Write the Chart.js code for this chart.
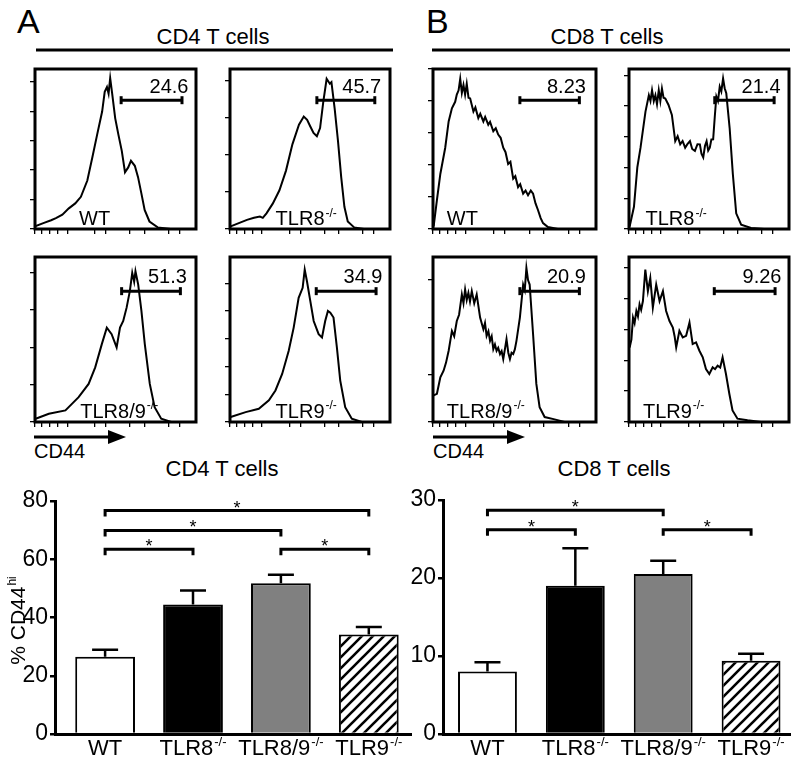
<!DOCTYPE html>
<html>
<head>
<meta charset="utf-8">
<script src="https://cdn.jsdelivr.net/npm/chart.js@4.4.0/dist/chart.umd.min.js"></script>
<style>
body { margin: 0; background: #fff; }
#fig { position: relative; width: 796px; height: 763px; overflow: hidden; font-family: "Liberation Sans", Arial, sans-serif; color: #000; }
#fig canvas { position: absolute; }
#fig svg { position: absolute; left: 0; top: 0; }
.txt { position: absolute; white-space: nowrap; line-height: 1; }
</style>
</head>
<body>
<div id="fig">
<svg width="796" height="763">
  <line x1="36" y1="50" x2="393" y2="50" stroke="#000" stroke-width="3"/>
  <line x1="432" y1="50" x2="790" y2="50" stroke="#000" stroke-width="3"/>
  <line x1="34" y1="437" x2="110" y2="437" stroke="#000" stroke-width="3"/>
  <polygon points="108,430 126,437 108,444" fill="#000"/>
  <line x1="433" y1="437" x2="509" y2="437" stroke="#000" stroke-width="3"/>
  <polygon points="507,430 525,437 507,444" fill="#000"/>
</svg>
<div class="txt" style="left:17px;top:4px;font-size:34px">A</div>
<div class="txt" style="left:426px;top:4px;font-size:34px">B</div>
<div class="txt" style="left:113px;top:26px;width:200px;text-align:center;font-size:22px">CD4 T cells</div>
<div class="txt" style="left:507px;top:26px;width:200px;text-align:center;font-size:22px">CD8 T cells</div>
<div class="txt" style="left:34px;top:441px;font-size:20px">CD44</div>
<div class="txt" style="left:433px;top:441px;font-size:20px">CD44</div>
<div class="txt" style="left:122px;top:458px;width:200px;text-align:center;font-size:22px">CD4 T cells</div>
<div class="txt" style="left:514px;top:458px;width:200px;text-align:center;font-size:22px">CD8 T cells</div>
</div>
<script>
const FONT = '"Liberation Sans", Arial, sans-serif';

// sample names (main text + superscript)
const sampleNames = ["WT", "TLR8", "TLR8/9", "TLR9"];
const sampleSups = ["", "-/-", "-/-", "-/-"];

// histogram traces: [CD44 channel (0-100), % of max]
const cd4WT = [[0,1.6],[6,4],[10,5.5],[13,6.8],[17,9],[21,12.9],[25,16],[28.5,20.1],[32.5,30.3],[35.6,44.7],[38.6,59],[41.7,73.4],[43.3,85.7],[44.7,88.7],[45.7,84.6],[46.7,94.3],[47.8,85.7],[49.8,69.3],[51.8,59],[53.9,48.8],[55.9,35.5],[57.9,38.5],[59.6,42.6],[62,39.5],[64,32.4],[66.1,22.1],[68.1,11.9],[71.1,4.7],[76.2,1],[84.3,0],[100,0]];
const cd4TLR8 = [[0.4,1.6],[10.6,5.7],[15,7],[18.7,7.8],[20.5,7],[22.8,9.8],[26.8,16],[30.9,24.2],[35,36.5],[39,52.9],[43.1,65.2],[46.1,70.3],[48.2,68.2],[50.2,64.1],[52.2,60],[54.3,58],[56.3,63.1],[58.3,79.5],[60.4,93.9],[62.4,90.8],[63.4,91.8],[65.4,75.4],[67.5,54.9],[69.5,32.4],[71.5,13.9],[73.6,4.7],[77.6,1],[83.7,0],[100,0]];
const cd4TLR89 = [[0.4,2],[8.6,5],[18.9,7],[27.1,15.1],[33.3,23.1],[37.4,33.1],[41.5,47.2],[44.6,57.2],[47.6,53.2],[50.7,45.2],[52.8,57.2],[54.8,61.2],[56.9,69.3],[58.9,79.3],[60.4,90.4],[61.6,85],[62.4,91.4],[64.1,83.3],[66.1,67.3],[68.2,47.2],[71.3,23.1],[74.3,9],[78.4,2],[84.6,0],[100,0]];
const cd4TLR9 = [[0.4,3],[9.8,6],[18,8],[24.3,13.1],[28.4,19.1],[32.6,29.1],[36.7,43.2],[39.8,57.2],[42.9,75.3],[45.4,81.3],[46.7,92.4],[48.1,85.3],[50.2,73.3],[52.3,61.2],[55.4,53.2],[57.5,51.2],[59.5,61.2],[61.2,67.3],[62.7,66.3],[64.7,63.3],[66.8,45.2],[68.9,25.1],[72,9],[76.1,2],[82.4,0],[100,0]];
const cd8WT = [[0.4,1.6],[2.4,18],[4.5,34.4],[7.5,50.8],[9.6,67.2],[11.6,75.4],[13.6,79.5],[14.6,84],[15.7,86.7],[16.7,93.9],[17.7,85],[18.7,90],[19.7,84],[20.7,90.8],[21.8,82],[22.8,81.6],[24.8,73.4],[26,76],[27.8,69.3],[29,72],[30.9,67.2],[32,70],[33.9,65.2],[35,67],[37,61.1],[38.5,63],[40,59],[41.5,57],[43.1,50.8],[44.5,48],[46.1,40.6],[47.5,42],[49.2,31.4],[50.5,33],[52.2,26.2],[53.5,28],[55.3,22.1],[56.8,24],[58.3,21.1],[60,24],[61.4,22.1],[62.9,16],[64.4,11.9],[66,7],[67.5,3.7],[70.5,1.2],[76.6,0],[100,0]];
const cd8TLR8 = [[0.4,1.6],[3.1,13.9],[5.2,38.5],[7.2,50.8],[10.3,73.4],[12.4,83.6],[13.4,80],[14.4,86.7],[15.5,80],[16.5,83.6],[17.5,78],[18.6,86.7],[19.6,80],[20.6,87.7],[21.6,82],[22.7,81.6],[24.7,77.5],[26.8,71.3],[28.9,54.9],[30.4,58],[32,52.9],[33.5,55],[35.1,50.8],[36.5,53],[38.1,54.9],[39.5,50],[41.2,48.8],[42.8,53],[44.3,52.9],[45.3,47],[46.4,44.7],[47.5,52],[48.5,54.9],[49.5,49],[50.5,50.8],[51.5,56],[52.6,56.1],[53.6,70],[54.6,82.8],[55.6,80],[56.7,88.9],[57.7,86],[58.8,94.1],[59.8,88],[60.8,84.8],[62.9,63.1],[64.9,34.4],[67,9.8],[70.1,2.7],[76.3,0.6],[84.5,0],[100,0]];
const cd8TLR89 = [[0.4,16.1],[2.4,17.1],[4.5,27.1],[6.5,31.1],[8,36],[9.6,43.2],[11.6,55.2],[13,52],[14.6,61.2],[16,65],[17.7,77.3],[18.7,72],[19.7,80.3],[20.7,74],[21.7,78.3],[22.7,73],[23.8,79.3],[25.3,72],[26.8,77.3],[28.9,63.3],[30.9,56.2],[31.9,60],[32.9,52.2],[34,55],[35,49.2],[36,52],[37,44.2],[38,47],[39,43.2],[40,45],[41.1,41.2],[42.1,43],[43.1,38.2],[44.1,44],[45.1,50.2],[46.2,42],[47.2,38.2],[48.2,42],[49.2,41.2],[50.2,44],[51.2,49.2],[53.3,63.3],[55.3,83.3],[56.3,80],[57.3,93.4],[58.3,86],[59.3,83.3],[61.4,53.2],[63.4,23.1],[65.4,9],[68.5,3],[74.6,1.6],[80.7,0],[100,0]];
const cd8TLR9 = [[0.4,45.2],[1.5,50],[2.5,63.3],[3.5,60],[4.6,67.3],[5.6,64],[6.6,71.3],[7.6,68],[8.7,73.3],[10.2,92.4],[11.8,79.3],[13.3,87.3],[14.9,69.3],[17,83.3],[19.1,73.3],[21.2,79.3],[23.2,67.3],[25.3,61.2],[27.4,57.2],[28.5,52],[29.5,45.2],[31.5,55.2],[33.6,51.2],[35.7,52.2],[37.8,60.2],[39.8,47.2],[41.9,48.2],[44,43.2],[46.1,39.2],[48.1,32.1],[50.2,29.1],[52.3,33.1],[53.8,32],[55.4,34.1],[57,33],[58.5,39.2],[60.6,29.1],[62.7,17.1],[64.7,7],[67.8,2],[74.1,1],[82.4,0],[100,0]];

// gates: [start, end, height] and their % values
const cd4Gates = [[53.5,91.3,80.5],[54.3,90.5,80.5],[53.8,90.3,79.3],[53.9,91.3,79.3]];
const cd8Gates = [[53.3,89.8,80.5],[53.6,90.7,80.5],[53.3,89.8,79.3],[53.3,91.3,79.3]];
const cd4GateValues = ["24.6", "45.7", "51.3", "34.9"];
const cd8GateValues = ["8.23", "21.4", "20.9", "9.26"];

// axis ticks of the histograms
const histXTicks = [0, 4, 9, 14, 20, 37, 44, 59, 68, 83, 90];
const cd4YSteps = [18.4, 23.2, 22.6, 16.8];
const cd8YSteps = [20, 19.2, 28.7, 18.7];

// bar charts: mean, SEM and significance brackets [from, to, height]
const cd4Means = [26.5, 44.5, 51.8, 34.2];
const cd4Errors = [2.4, 4.8, 2.9, 2.5];
const cd8Means = [8.0, 19.0, 20.5, 9.4];
const cd8Errors = [1.2, 4.8, 1.7, 0.9];
const cd4Sig = [[0,1,63.4],[0,2,69.9],[0,3,76.7],[2,3,63.4]];
const cd8Sig = [[0,2,28.7],[0,1,26.2],[2,3,26.2]];
const cd4YTicks = [0, 20, 40, 60, 80];
const cd8YTicks = [0, 10, 20, 30];

const fig = document.getElementById("fig");

function addCanvas(left, top, w, h) {
    const c = document.createElement("canvas");
    c.width = w; c.height = h;
    c.style.left = left + "px"; c.style.top = top + "px";
    c.style.width = w + "px"; c.style.height = h + "px";
    fig.appendChild(c);
    return c;
}

// label with optional superscript
function drawLabel(ctx, x, y, main, sup, size, align) {
    ctx.font = size + "px " + FONT;
    const w1 = ctx.measureText(main).width;
    ctx.font = Math.round(size * 0.58) + "px " + FONT;
    const w2 = sup ? ctx.measureText(sup).width + 1 : 0;
    let x0 = x;
    if (align === "center") x0 = x - (w1 + w2) / 2;
    ctx.textAlign = "left";
    ctx.textBaseline = "alphabetic";
    ctx.font = size + "px " + FONT;
    ctx.fillText(main, x0, y);
    if (sup) {
        ctx.font = Math.round(size * 0.58) + "px " + FONT;
        ctx.fillText(sup, x0 + w1 + 1, y - size * 0.42);
    }
}

const histDeco = {
    id: "histDeco",
    afterDraw(chart, args, o) {
        const { ctx, chartArea: a, scales: { x, y } } = chart;
        ctx.save();
        ctx.fillStyle = "#000";
        // sample name
        drawLabel(ctx, x.getPixelForValue(o.nameX), y.getPixelForValue(2.5), o.name, o.sup, 20, "left");
        // gate value
        ctx.font = "20px " + FONT;
        ctx.textAlign = "right";
        ctx.textBaseline = "alphabetic";
        ctx.fillText(o.value, x.getPixelForValue(o.gate[1] + 4), y.getPixelForValue(o.gate[2] + 9) + 7);
        // frame
        ctx.strokeStyle = "#000";
        ctx.lineWidth = 3;
        ctx.strokeRect(a.left, a.top, a.right - a.left, a.bottom - a.top);
        ctx.restore();
    }
};

function makeHist(box, pts, gate, value, step, name, sup, nameX) {
    const [x0, y0, x1, y1] = box;
    const c = addCanvas(x0 - 8, y0 - 4, x1 - x0 + 12, y1 - y0 + 12);
    const tickGrid = { drawOnChartArea: false, drawTicks: true, tickLength: 5, color: "#000", lineWidth: 1.3 };
    new Chart(c, {
        type: "line",
        data: {
            datasets: [
                {
                    data: pts.map(([px, py]) => ({ x: px, y: py })),
                    borderColor: "#000",
                    borderWidth: 2,
                    pointRadius: 0,
                    tension: 0,
                },
                {
                    data: [{ x: gate[0], y: gate[2] }, { x: gate[1], y: gate[2] }],
                    borderColor: "#000",
                    borderWidth: 3,
                    pointStyle: "line",
                    pointRotation: 90,
                    pointRadius: 4,
                    pointBorderWidth: 3,
                    pointBorderColor: "#000",
                },
            ],
        },
        options: {
            responsive: false,
            animation: false,
            events: [],
            layout: { padding: { top: 4, right: 4, left: 0, bottom: 0 } },
            plugins: {
                legend: { display: false },
                tooltip: { enabled: false },
                histDeco: { gate, value, name, sup, nameX },
            },
            scales: {
                x: {
                    type: "linear", min: 0, max: 100,
                    ticks: { display: false },
                    grid: tickGrid,
                    border: { display: false },
                    afterBuildTicks: (s) => { s.ticks = histXTicks.map((v) => ({ value: v })); },
                    afterFit: (s) => { s.height = 8; },
                },
                y: {
                    type: "linear", min: 0, max: 100,
                    ticks: { display: false },
                    grid: tickGrid,
                    border: { display: false },
                    afterBuildTicks: (s) => {
                        const t = [];
                        for (let v = 0; v <= 100; v += step) t.push({ value: v });
                        s.ticks = t;
                    },
                    afterFit: (s) => { s.width = 8; },
                },
            },
        },
        plugins: [histDeco],
    });
}

// panel layout
const colsA = [[35, 199], [230, 393]];
const colsB = [[433, 599], [629, 792]];
const rows = [[66, 229], [254, 422]];
const cd4Traces = [cd4WT, cd4TLR8, cd4TLR89, cd4TLR9];
const cd8Traces = [cd8WT, cd8TLR8, cd8TLR89, cd8TLR9];
const cd4NameX = [27.4, 28.5, 28.1, 28.5];
const cd8NameX = [8.5, 10.3, 8.5, 8.7];

for (let i = 0; i < 4; i++) {
    const r = rows[Math.floor(i / 2)];
    const ca = colsA[i % 2], cb = colsB[i % 2];
    makeHist([ca[0], r[0], ca[1], r[1]], cd4Traces[i], cd4Gates[i], cd4GateValues[i], cd4YSteps[i], sampleNames[i], sampleSups[i], cd4NameX[i]);
    makeHist([cb[0], r[0], cb[1], r[1]], cd8Traces[i], cd8Gates[i], cd8GateValues[i], cd8YSteps[i], sampleNames[i], sampleSups[i], cd8NameX[i]);
}

// diagonal hatch for the TLR9 bar
function hatch() {
    const s = 11;
    const c = document.createElement("canvas");
    c.width = s; c.height = s;
    const g = c.getContext("2d");
    g.fillStyle = "#fff";
    g.fillRect(0, 0, s, s);
    g.strokeStyle = "#000";
    g.lineWidth = 2.6;
    g.beginPath();
    g.moveTo(-1, s + 1); g.lineTo(s + 1, -1);
    g.moveTo(-s / 2 - 1, s / 2 + 1); g.lineTo(s / 2 + 1, -s / 2 - 1);
    g.moveTo(s / 2 - 1, s * 1.5 + 1); g.lineTo(s * 1.5 + 1, s / 2 - 1);
    g.stroke();
    return g.createPattern(c, "repeat");
}
const barFills = ["#ffffff", "#000000", "#808080", hatch()];

const barDeco = {
    id: "barDeco",
    afterDatasetsDraw(chart, args, o) {
        const { ctx, chartArea: a, scales: { x, y } } = chart;
        ctx.save();
        ctx.strokeStyle = "#000";
        ctx.fillStyle = "#000";
        // error bars (upper only)
        ctx.lineWidth = 2.5;
        o.means.forEach((m, i) => {
            const px = x.getPixelForValue(i);
            const top = y.getPixelForValue(m + o.errors[i]);
            ctx.beginPath();
            ctx.moveTo(px, y.getPixelForValue(m));
            ctx.lineTo(px, top);
            ctx.moveTo(px - 13, top);
            ctx.lineTo(px + 13, top);
            ctx.stroke();
        });
        // significance brackets
        ctx.lineWidth = 3;
        o.sig.forEach(([i0, i1, v]) => {
            const xa = x.getPixelForValue(i0), xb = x.getPixelForValue(i1), py = y.getPixelForValue(v);
            ctx.beginPath();
            ctx.moveTo(xa, py + 6);
            ctx.lineTo(xa, py);
            ctx.lineTo(xb, py);
            ctx.lineTo(xb, py + 6);
            ctx.stroke();
            ctx.font = "18px " + FONT;
            ctx.textAlign = "center";
            ctx.textBaseline = "alphabetic";
            ctx.fillText("*", (xa + xb) / 2, py + 3);
        });
        // category labels
        sampleNames.forEach((n, i) => {
            drawLabel(ctx, x.getPixelForValue(i), a.bottom + 21, n, sampleSups[i], 22, "center");
        });
        // y title
        if (o.yTitle) {
            ctx.translate(25, (a.top + a.bottom) / 2 + 3);
            ctx.rotate(-Math.PI / 2);
            drawLabel(ctx, 0, 0, "% CD44", "hi", 21, "center");
        }
        ctx.restore();
    }
};

function makeBars(left, w, padTop, padRight, axisW, xMin, xMax, yMax, yTicks, means, errors, sig, barPct, yTitle) {
    const c = addCanvas(left, 470, w, 293);
    new Chart(c, {
        type: "bar",
        data: {
            datasets: [{
                data: means.map((m, i) => ({ x: i, y: m })),
                backgroundColor: barFills,
                borderColor: "#000",
                borderWidth: 2,
                barPercentage: barPct,
                categoryPercentage: 1,
            }],
        },
        options: {
            responsive: false,
            animation: false,
            events: [],
            layout: { padding: { top: padTop, right: padRight, left: 0, bottom: 0 } },
            plugins: {
                legend: { display: false },
                tooltip: { enabled: false },
                barDeco: { means, errors, sig, yTitle },
            },
            scales: {
                x: {
                    type: "linear", min: xMin, max: xMax, offset: false,
                    ticks: { display: false },
                    grid: { display: false, offset: false },
                    border: { display: true, color: "#000", width: 3 },
                    afterBuildTicks: (s) => { s.ticks = means.map((m, i) => ({ value: i })); },
                    afterFit: (s) => { s.height = 29; },
                },
                y: {
                    min: 0, max: yMax,
                    ticks: { color: "#000", padding: 2, font: { size: 23, family: FONT } },
                    grid: { drawOnChartArea: false, drawTicks: true, tickLength: 5, color: "#000", lineWidth: 2.5 },
                    border: { display: true, color: "#000", width: 3 },
                    afterBuildTicks: (s) => { s.ticks = yTicks.map((v) => ({ value: v })); },
                    afterFit: (s) => { s.width = axisW; },
                },
            },
        },
        plugins: [barDeco],
    });
}

makeBars(0, 420, 31, 9, 55, -0.57, 3.48, 80, cd4YTicks, cd4Means, cd4Errors, cd4Sig, 0.68, true);
makeBars(400, 396, 30, 6, 43, -0.506, 3.443, 30, cd8YTicks, cd8Means, cd8Errors, cd8Sig, 0.67, false);
</script>
</body>
</html>
